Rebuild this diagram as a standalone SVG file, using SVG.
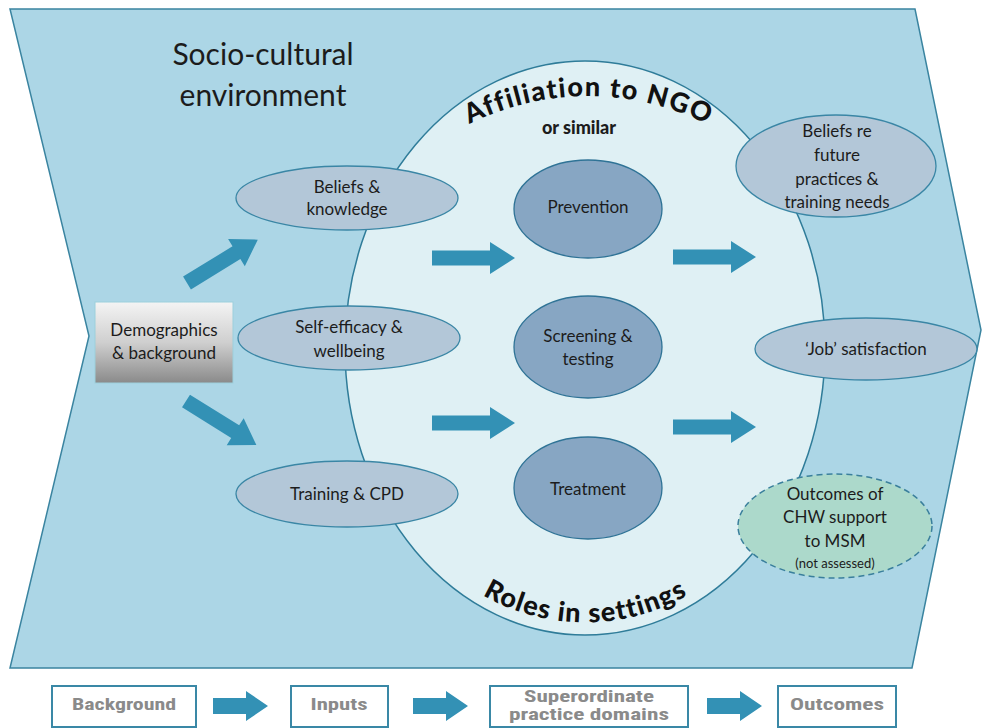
<svg xmlns="http://www.w3.org/2000/svg" width="982" height="728" viewBox="0 0 982 728">
  <style>
    .t { font-family: Lato, "Noto Sans", "Liberation Sans", sans-serif; fill: #1c1c1c; text-anchor: middle; }
    .n { font-size: 17px; }
    .in { fill: #b3c7d8; stroke: #3a86a5; stroke-width: 1.3; }
    .dom { fill: #87a6c3; stroke: #2f7396; stroke-width: 1.3; }
    .arr { fill: #3391b5; }
    .curv { font-family: Lato, "Liberation Sans", sans-serif; font-weight: 900; font-size: 27px; fill: #111; font-variant-ligatures: none; }
    .leg { fill: #ffffff; stroke: #3a88a6; stroke-width: 2; }
    .legt { font-family: "Liberation Sans Narrow", "Roboto Condensed", "Liberation Sans", sans-serif; font-weight: bold; font-size: 16px; fill: #8a8a8a; text-anchor: middle; }
  </style>
  <defs>
    <linearGradient id="grey" x1="0" y1="0" x2="0" y2="1">
      <stop offset="0" stop-color="#f4f4f4"/>
      <stop offset="0.5" stop-color="#cfcfcf"/>
      <stop offset="1" stop-color="#8a8a8a"/>
    </linearGradient>
    <path id="blk" d="M0,-7.5 H58 V-16 L83,0 L58,16 V7.5 H0 Z"/>
    <path id="blkS" d="M0,-8 H33 V-15 L55,0 L33,15 V8 H0 Z"/>
    <path id="arcTop" d="M 462,128 A 265,265 0 0 1 714,128"/>
    <path id="arcBot" d="M 474,590 A 206,206 0 0 0 696,590"/>
  </defs>

  <!-- background chevron: socio-cultural environment -->
  <g id="environment">
    <polygon points="10,9 915,9 981,330 912,668 10,668 89,336" fill="#acd6e6" stroke="#3a84a0" stroke-width="1.5"/>
    <text class="t" x="263" y="65" font-size="30">Socio-cultural</text>
    <text class="t" x="263" y="106" font-size="30">environment</text>
  </g>

  <!-- central practice domain area -->
  <g id="settings">
    <ellipse cx="585" cy="348" rx="240" ry="287" fill="#dff0f4" stroke="#2f7c99" stroke-width="1.5"/>
    <text class="curv"><textPath href="#arcTop" startOffset="50%" text-anchor="middle" textLength="246" lengthAdjust="spacing">Affiliation to NGO</textPath></text>
    <text class="t" x="579" y="134" font-size="18" font-weight="900" fill="#222">or similar</text>
    <text class="curv"><textPath href="#arcBot" startOffset="50%" text-anchor="middle" textLength="214" lengthAdjust="spacing">Roles in settings</textPath></text>
  </g>

  <!-- connectors -->
  <g id="connectors">
    <use href="#blk" class="arr" transform="translate(187,283) rotate(-31.5)"/>
    <use href="#blk" class="arr" transform="translate(186,401) rotate(32)"/>
    <use href="#blk" class="arr" transform="translate(432,258)"/>
    <use href="#blk" class="arr" transform="translate(432,423)"/>
    <use href="#blk" class="arr" transform="translate(673,257)"/>
    <use href="#blk" class="arr" transform="translate(673,427)"/>
  </g>

  <g id="demographics">
    <rect x="95" y="302" width="138" height="81" fill="url(#grey)" stroke="#9ccfdc" stroke-width="1"/>
    <text class="t n" x="164" y="336">Demographics</text>
    <text class="t n" x="164" y="359">&amp; background</text>
  </g>

  <g id="beliefs-knowledge">
    <ellipse class="in" cx="347" cy="198" rx="111" ry="32"/>
    <text class="t n" x="347" y="193">Beliefs &amp;</text>
    <text class="t n" x="347" y="215">knowledge</text>
  </g>

  <g id="self-efficacy">
    <ellipse class="in" cx="349" cy="338" rx="111" ry="32"/>
    <text class="t n" x="349" y="333">Self-efficacy &amp;</text>
    <text class="t n" x="349" y="357">wellbeing</text>
  </g>

  <g id="training">
    <ellipse class="in" cx="347" cy="494" rx="111" ry="33"/>
    <text class="t n" x="347" y="500">Training &amp; CPD</text>
  </g>

  <g id="prevention">
    <ellipse class="dom" cx="588" cy="209" rx="74" ry="49"/>
    <text class="t n" x="588" y="213">Prevention</text>
  </g>

  <g id="screening">
    <ellipse class="dom" cx="588" cy="347" rx="74" ry="51"/>
    <text class="t n" x="588" y="342">Screening &amp;</text>
    <text class="t n" x="588" y="365">testing</text>
  </g>

  <g id="treatment">
    <ellipse class="dom" cx="588" cy="488" rx="74" ry="51"/>
    <text class="t n" x="588" y="495">Treatment</text>
  </g>

  <g id="future-beliefs">
    <ellipse class="in" cx="836" cy="166" rx="100" ry="51"/>
    <text class="t n" x="837" y="137">Beliefs re</text>
    <text class="t n" x="837" y="161">future</text>
    <text class="t n" x="837" y="185">practices &amp;</text>
    <text class="t n" x="837" y="208">training needs</text>
  </g>

  <g id="job-satisfaction">
    <ellipse class="in" cx="866" cy="349" rx="111" ry="31"/>
    <text class="t n" x="866" y="355">‘Job’ satisfaction</text>
  </g>

  <g id="chw-outcomes">
    <ellipse cx="835" cy="526" rx="97" ry="52" fill="#acd9cb" stroke="#3a7f9c" stroke-width="1.5" stroke-dasharray="6,4"/>
    <text class="t n" x="835" y="500">Outcomes of</text>
    <text class="t n" x="835" y="523">CHW support</text>
    <text class="t n" x="835" y="547">to MSM</text>
    <text class="t" x="835" y="568" font-size="13">(not assessed)</text>
  </g>

  <!-- legend row -->
  <g id="legend-background">
    <rect class="leg" x="52" y="686" width="144" height="41"/>
    <text class="legt" x="124" y="710" textLength="104" lengthAdjust="spacingAndGlyphs">Background</text>
  </g>
  <g id="legend-inputs">
    <rect class="leg" x="291" y="686" width="97" height="41"/>
    <text class="legt" x="339" y="710" textLength="57" lengthAdjust="spacingAndGlyphs">Inputs</text>
  </g>
  <g id="legend-domains">
    <rect class="leg" x="490" y="686" width="198" height="41"/>
    <text class="legt" x="589" y="702" textLength="130" lengthAdjust="spacingAndGlyphs">Superordinate</text>
    <text class="legt" x="589" y="720" textLength="160" lengthAdjust="spacingAndGlyphs">practice domains</text>
  </g>
  <g id="legend-outcomes">
    <rect class="leg" x="778" y="686" width="118" height="41"/>
    <text class="legt" x="837" y="710" textLength="94" lengthAdjust="spacingAndGlyphs">Outcomes</text>
  </g>
  <g id="legend-connectors">
    <use href="#blkS" class="arr" transform="translate(213,706)"/>
    <use href="#blkS" class="arr" transform="translate(413,706)"/>
    <use href="#blkS" class="arr" transform="translate(707,706)"/>
  </g>
</svg>
